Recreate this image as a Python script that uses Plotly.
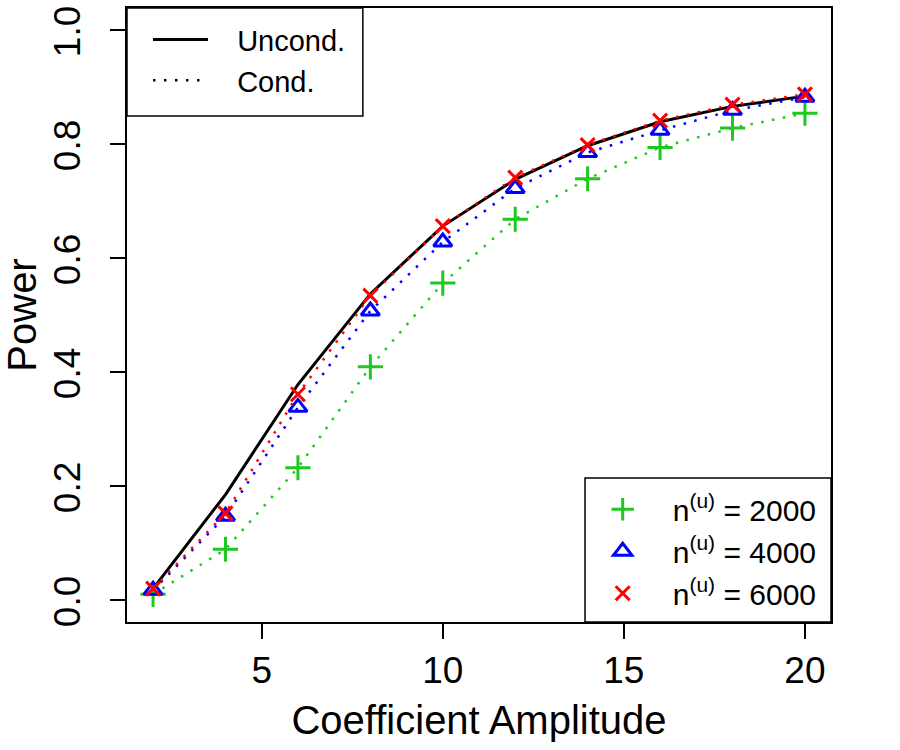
import plotly.graph_objects as go

# ---- data ----
amplitude = [2, 4, 6, 8, 10, 12, 14, 16, 18, 20]
power_uncond = [0.020, 0.185, 0.378, 0.537, 0.656, 0.738, 0.797, 0.839, 0.866, 0.884]
power_cond_2000 = [0.010, 0.089, 0.232, 0.409, 0.556, 0.668, 0.739, 0.794, 0.828, 0.854]
power_cond_4000 = [0.017, 0.147, 0.338, 0.507, 0.628, 0.722, 0.785, 0.824, 0.859, 0.882]
power_cond_6000 = [0.020, 0.152, 0.361, 0.534, 0.656, 0.741, 0.798, 0.841, 0.869, 0.887]

x_ticks = [5, 10, 15, 20]
y_ticks = [0.0, 0.2, 0.4, 0.6, 0.8, 1.0]
y_tick_labels = ["0.0", "0.2", "0.4", "0.6", "0.8", "1.0"]

series_labels = ["n<sup>(u)</sup> = 2000", "n<sup>(u)</sup> = 4000", "n<sup>(u)</sup> = 6000"]
line_labels = ["Uncond.", "Cond."]

FONT = "Liberation Sans, Arial, Helvetica, sans-serif"
GREEN, BLUE, RED = "#1FC81F", "#0000FF", "#FF0000"
DOT = "2.5px,8.5px"
PAD = "\u00a0\u00a0\u00a0"

fig = go.Figure()

# unconditional (solid black)
fig.add_trace(go.Scatter(x=amplitude, y=power_uncond, mode="lines",
                         line=dict(color="black", width=3), showlegend=False))

cond = [(power_cond_2000, GREEN, "cross-thin-open", 18),
        (power_cond_4000, BLUE, "triangle-up-open", 16),
        (power_cond_6000, RED, "x-thin-open", 14)]
for vals, col, sym, sz in cond:
    fig.add_trace(go.Scatter(x=amplitude, y=vals, mode="lines+markers",
                             line=dict(color=col, width=2.5, dash=DOT),
                             marker=dict(symbol=sym, size=sz, color=col,
                                         line=dict(color=col, width=3)),
                             showlegend=False))

# legend 1 entries: line styles
fig.add_trace(go.Scatter(x=[None], y=[None], mode="lines", name=PAD + line_labels[0],
                         line=dict(color="black", width=3), legend="legend"))
fig.add_trace(go.Scatter(x=[None], y=[None], mode="lines", name=PAD + line_labels[1],
                         line=dict(color="black", width=2.5, dash=DOT), legend="legend"))
# legend 2 entries: markers
for (vals, col, sym, sz), lab in zip(cond, series_labels):
    fig.add_trace(go.Scatter(x=[None], y=[None], mode="markers", name=PAD + lab,
                             marker=dict(symbol=sym, size=sz, color=col,
                                         line=dict(color=col, width=3)),
                             legend="legend2"))

# legend boxes (decoration)
fig.add_shape(type="rect", xref="x domain", yref="y domain", x0=0, x1=0.335, y0=0.824, y1=1,
              line=dict(color="black", width=1.5), fillcolor="white", layer="below")
fig.add_shape(type="rect", xref="x domain", yref="y domain", x0=0.6506, x1=1, y0=0, y1=0.2345,
              line=dict(color="black", width=1.5), fillcolor="white", layer="below")

fig.update_layout(
    width=900, height=750,
    margin=dict(l=127, r=69, t=8, b=128, autoexpand=False),
    paper_bgcolor="white", plot_bgcolor="white",
    font=dict(family=FONT, color="black"),
    legend=dict(x=0.0298, y=0.99, xanchor="left", yanchor="top",
                bgcolor="rgba(0,0,0,0)", borderwidth=0,
                font=dict(size=29, family=FONT), itemwidth=55, tracegroupgap=0),
    legend2=dict(x=0.6686, y=0.226, xanchor="left", yanchor="top",
                 bgcolor="rgba(0,0,0,0)", borderwidth=0,
                 font=dict(size=30, family=FONT), itemwidth=40, tracegroupgap=0),
    xaxis=dict(range=[1.28, 20.72], tickvals=x_ticks, ticks="outside", ticklen=15,
               tickwidth=1.5, tickcolor="black", showgrid=False, zeroline=False,
               showline=True, mirror=True, linecolor="black", linewidth=1.5,
               automargin=False, ticklabeloverflow="allow",
               tickfont=dict(size=37, family=FONT),
               title=dict(text="Coefficient Amplitude", font=dict(size=40, family=FONT), standoff=16)),
    yaxis=dict(range=[-0.0386, 1.0386], tickvals=y_ticks, ticktext=y_tick_labels,
               ticks="outside", ticklen=15, tickwidth=1.5, tickcolor="black",
               tickangle=-90, showgrid=False, zeroline=False,
               showline=True, mirror=True, linecolor="black", linewidth=1.5,
               automargin=False, ticklabeloverflow="allow", ticklabelshift=7,
               tickfont=dict(size=37, family=FONT), ticklabelstandoff=15,
               title=dict(text="Power", font=dict(size=40, family=FONT), standoff=21)),
)

fig.write_html("out.html")
